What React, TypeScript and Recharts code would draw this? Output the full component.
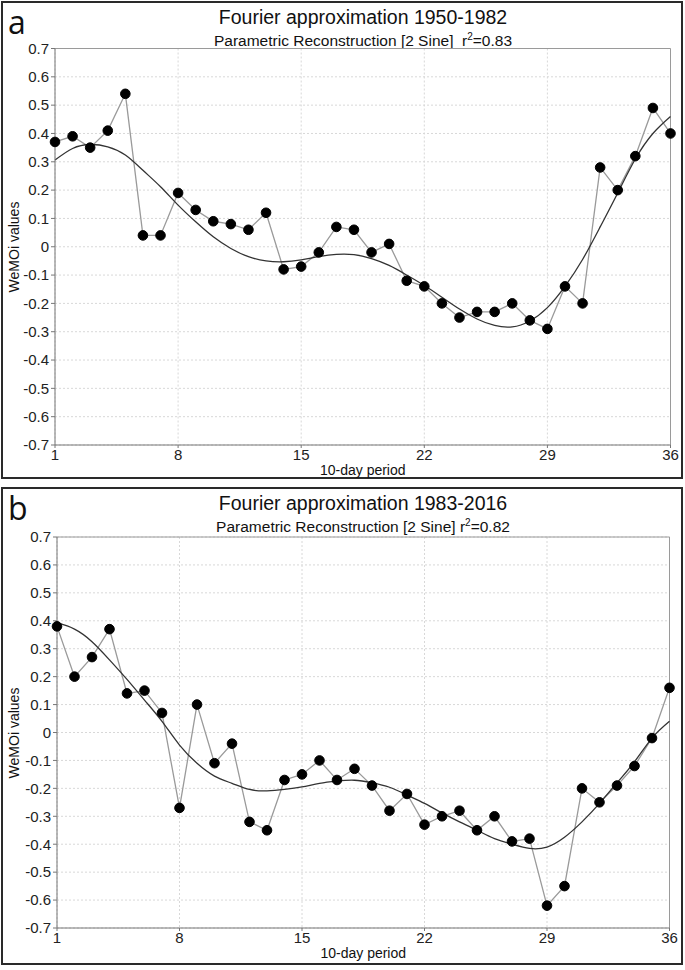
import { LineChart, Line, XAxis, YAxis, CartesianGrid, ReferenceLine } from 'recharts'

const periods = [
  1, 2, 3, 4, 5, 6, 7, 8, 9, 10, 11, 12, 13, 14, 15, 16, 17, 18,
  19, 20, 21, 22, 23, 24, 25, 26, 27, 28, 29, 30, 31, 32, 33, 34, 35, 36,
]

// WeMOi observed, 1950-1982
const obs1950 = [
  0.37, 0.39, 0.35, 0.41, 0.54, 0.04, 0.04, 0.19, 0.13, 0.09, 0.08, 0.06,
  0.12, -0.08, -0.07, -0.02, 0.07, 0.06, -0.02, 0.01, -0.12, -0.14, -0.2, -0.25,
  -0.23, -0.23, -0.2, -0.26, -0.29, -0.14, -0.2, 0.28, 0.2, 0.32, 0.49, 0.4,
]

// 2-sine reconstruction, 1950-1982
const fit1950 = [
  0.306, 0.347, 0.361, 0.353, 0.324, 0.27, 0.212, 0.147, 0.088, 0.035, -0.006, -0.035,
  -0.05, -0.053, -0.046, -0.035, -0.027, -0.028, -0.042, -0.066, -0.1, -0.137, -0.178, -0.22,
  -0.255, -0.278, -0.283, -0.262, -0.215, -0.14, -0.045, 0.07, 0.19, 0.31, 0.4, 0.46,
]

// WeMOi observed, 1983-2016
const obs1983 = [
  0.38, 0.2, 0.27, 0.37, 0.14, 0.15, 0.07, -0.27, 0.1, -0.11, -0.04, -0.32,
  -0.35, -0.17, -0.15, -0.1, -0.17, -0.13, -0.19, -0.28, -0.22, -0.33, -0.3, -0.28,
  -0.35, -0.3, -0.39, -0.38, -0.62, -0.55, -0.2, -0.25, -0.19, -0.12, -0.02, 0.16,
]

// 2-sine reconstruction, 1983-2016
const fit1983 = [
  0.393, 0.37, 0.325, 0.26, 0.19, 0.116, 0.04, -0.045, -0.11, -0.156, -0.182, -0.204,
  -0.209, -0.204, -0.195, -0.182, -0.174, -0.171, -0.18, -0.196, -0.224, -0.254, -0.288, -0.32,
  -0.35, -0.38, -0.4, -0.415, -0.41, -0.375, -0.32, -0.254, -0.18, -0.105, -0.02, 0.04,
]

const xTicks = [1, 8, 15, 22, 29, 36]
const yTicks = [0.7, 0.6, 0.5, 0.4, 0.3, 0.2, 0.1, 0, -0.1, -0.2, -0.3, -0.4, -0.5, -0.6, -0.7]

const FONT = '"Liberation Sans", Arial, sans-serif'
const W = 685
const H = 480
const Y_W = 40
const X_H = 24

type PanelProps = {
  letter: string
  title: string
  sub: string
  r2: string
  obs: number[]
  fit: number[]
  top: number
  plotTop: number
  plotBottom: number
  plotLeft: number
  plotRight: number
}

function Panel({ letter, title, sub, r2, obs, fit, top, plotTop, plotBottom, plotLeft, plotRight }: PanelProps) {
  const data = periods.map((p, i) => ({ period: p, obs: obs[i], fit: fit[i] }))
  const midY = (plotTop + plotBottom) / 2
  return (
    <div style={{ position: 'absolute', left: 0, top, width: W, height: H, fontFamily: FONT, color: '#111' }}>
      <div
        style={{
          position: 'absolute', left: 1, top: 1, width: 682, height: H - 2,
          border: '2px solid #2a2a2a', boxSizing: 'border-box',
        }}
      />
      <div
        style={{
          position: 'absolute', left: 8, top: 2, fontSize: 32, lineHeight: '40px',
          fontFamily: '"Open Sans", sans-serif',
        }}
      >
        {letter}
      </div>
      <div style={{ position: 'absolute', left: 0, width: 726, top: 6, textAlign: 'center', fontSize: 19.5, lineHeight: '22px' }}>
        {title}
      </div>
      <div style={{ position: 'absolute', left: 0, width: 726, top: 28, textAlign: 'center', fontSize: 15.5, lineHeight: '18px' }}>
        {sub}r<span style={{ fontSize: 10, verticalAlign: 6 }}>2</span>={r2}
      </div>
      <div
        style={{
          position: 'absolute', left: 14 - 100, top: midY - 10, width: 200, height: 20,
          lineHeight: '20px', textAlign: 'center', fontSize: 14, transform: 'rotate(-90deg)',
        }}
      >
        WeMOi values
      </div>
      <div
        style={{
          position: 'absolute', left: 0, width: plotLeft + plotRight, top: plotBottom + 17,
          textAlign: 'center', fontSize: 14, lineHeight: '16px',
        }}
      >
        10-day period
      </div>
      <div style={{ position: 'absolute', left: 0, top: 0 }}>
        <LineChart
          width={W}
          height={H}
          data={data}
          margin={{ top: plotTop, right: W - plotRight, bottom: H - plotBottom - X_H, left: plotLeft - Y_W }}
        >
          <CartesianGrid stroke="#d8d8d8" strokeDasharray="2 2" />
          <XAxis
            dataKey="period"
            type="number"
            domain={[1, 36]}
            ticks={xTicks}
            interval={0}
            height={X_H}
            tickSize={3}
            tickMargin={1}
            stroke="#777"
            tick={{ fontSize: 15, fill: '#222', fontFamily: FONT }}
          />
          <YAxis
            type="number"
            domain={[-0.7, 0.7]}
            ticks={yTicks}
            interval={0}
            width={Y_W}
            tickSize={4}
            tickMargin={2}
            stroke="#777"
            tickFormatter={(v: number) => (v === 0 ? '0' : v.toFixed(1))}
            tick={{ fontSize: 15, fill: '#222', fontFamily: FONT }}
          />
          <ReferenceLine y={0.7} stroke="#9a9a9a" />
          <ReferenceLine x={36} stroke="#9a9a9a" />
          <Line
            type="linear"
            dataKey="obs"
            stroke="#9a9a9a"
            strokeWidth={1.3}
            dot={{ r: 4.8, fill: '#000', stroke: '#000', strokeWidth: 1 }}
            isAnimationActive={false}
          />
          <Line
            type="natural"
            dataKey="fit"
            stroke="#333"
            strokeWidth={1.3}
            dot={false}
            isAnimationActive={false}
          />
        </LineChart>
      </div>
    </div>
  )
}

export default function App() {
  return (
    <div style={{ position: 'absolute', left: 0, top: 0, width: 685, height: 970, background: '#fff' }}>
      <Panel
        letter="a"
        title="Fourier approximation 1950-1982"
        sub={'Parametric Reconstruction [2 Sine]\u00a0\u00a0'}
        r2="0.83"
        obs={obs1950}
        fit={fit1950}
        top={0}
        plotTop={48.5}
        plotBottom={445}
        plotLeft={55}
        plotRight={670.5}
      />
      <Panel
        letter="b"
        title="Fourier approximation 1983-2016"
        sub={'Parametric Reconstruction [2 Sine] '}
        r2="0.82"
        obs={obs1983}
        fit={fit1983}
        top={486}
        plotTop={51}
        plotBottom={442}
        plotLeft={57}
        plotRight={669.5}
      />
    </div>
  )
}
